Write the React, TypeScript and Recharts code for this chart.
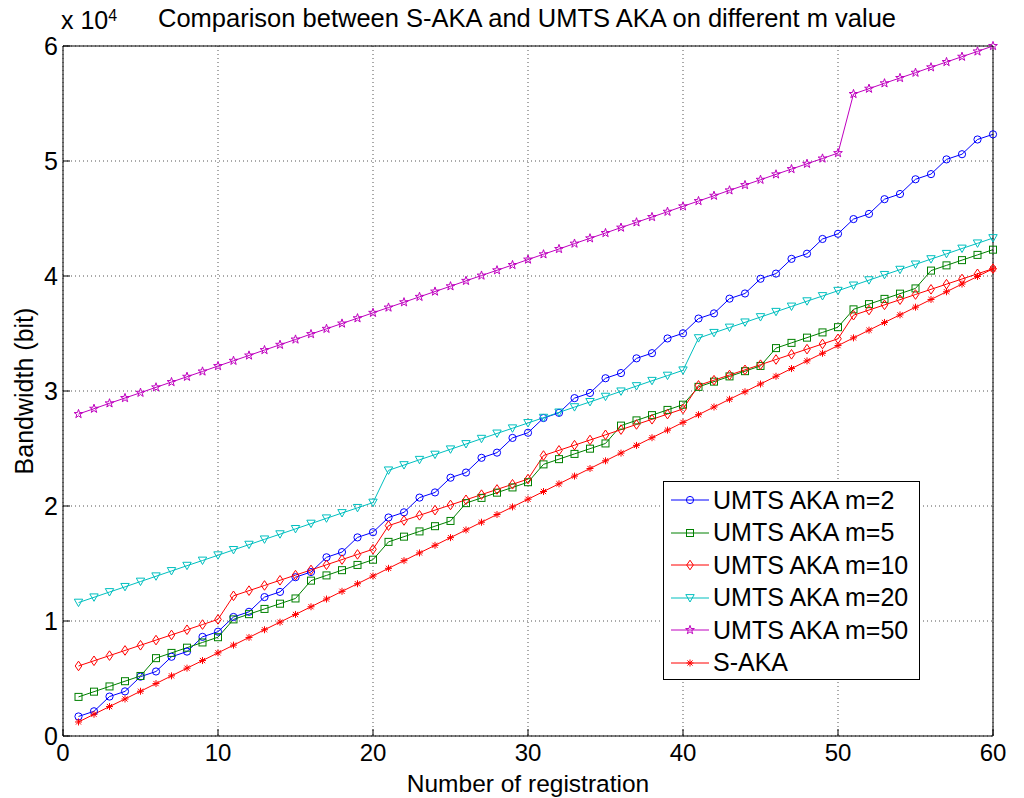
import React from "react";
import { LineChart, Line, XAxis, YAxis, CartesianGrid } from "recharts";

// registration count on the x axis
const registrations = [
  1, 2, 3, 4, 5, 6, 7, 8, 9, 10, 11, 12, 13, 14, 15, 16, 17, 18, 19, 20,
  21, 22, 23, 24, 25, 26, 27, 28, 29, 30, 31, 32, 33, 34, 35, 36, 37, 38, 39, 40,
  41, 42, 43, 44, 45, 46, 47, 48, 49, 50, 51, 52, 53, 54, 55, 56, 57, 58, 59, 60,
];

// bandwidth (bit)
const umtsM2 = [
  1700, 2150, 3430, 3880, 5160, 5610, 6890, 7340, 8620, 9070,
  10350, 10800, 12080, 12530, 13810, 14260, 15540, 15990, 17270, 17720,
  19000, 19450, 20730, 21180, 22460, 22910, 24190, 24640, 25920, 26370,
  27650, 28100, 29380, 29830, 31110, 31560, 32840, 33290, 34570, 35020,
  36300, 36750, 38030, 38480, 39760, 40210, 41490, 41940, 43220, 43670,
  44950, 45400, 46680, 47130, 48410, 48860, 50140, 50590, 51870, 52320,
];

const umtsM5 = [
  3400, 3855, 4310, 4765, 5220, 6770, 7225, 7680, 8135, 8590,
  10140, 10595, 11050, 11505, 11960, 13510, 13965, 14420, 14875, 15330,
  16880, 17335, 17790, 18245, 18700, 20250, 20705, 21160, 21615, 22070,
  23620, 24075, 24530, 24985, 25440, 26990, 27445, 27900, 28355, 28810,
  30360, 30815, 31270, 31725, 32180, 33730, 34185, 34640, 35095, 35550,
  37100, 37555, 38010, 38465, 38920, 40470, 40925, 41380, 41835, 42290,
];

const umtsM10 = [
  6090, 6540, 6990, 7440, 7890, 8340, 8790, 9240, 9690, 10140,
  12190, 12640, 13090, 13540, 13990, 14440, 14890, 15340, 15790, 16240,
  18290, 18740, 19190, 19640, 20090, 20540, 20990, 21440, 21890, 22340,
  24390, 24840, 25290, 25740, 26190, 26640, 27090, 27540, 27990, 28440,
  30490, 30940, 31390, 31840, 32290, 32740, 33190, 33640, 34090, 34540,
  36590, 37040, 37490, 37940, 38390, 38840, 39290, 39740, 40190, 40640,
];

const umtsM20 = [
  11600, 12060, 12520, 12970, 13430, 13890, 14350, 14810, 15260, 15720,
  16180, 16640, 17100, 17550, 18010, 18470, 18930, 19390, 19840, 20300,
  23100, 23560, 24020, 24470, 24930, 25390, 25850, 26310, 26760, 27220,
  27680, 28140, 28600, 29050, 29510, 29970, 30430, 30890, 31340, 31800,
  34600, 35060, 35520, 35970, 36430, 36890, 37350, 37810, 38260, 38720,
  39180, 39640, 40100, 40550, 41010, 41470, 41930, 42390, 42840, 43300,
];

const umtsM50 = [
  28000, 28460, 28930, 29390, 29850, 30320, 30780, 31240, 31700, 32170,
  32630, 33090, 33560, 34020, 34480, 34950, 35410, 35870, 36330, 36800,
  37260, 37720, 38190, 38650, 39110, 39580, 40040, 40500, 40960, 41430,
  41890, 42350, 42820, 43280, 43740, 44210, 44670, 45130, 45590, 46060,
  46520, 46980, 47450, 47910, 48370, 48840, 49300, 49760, 50220, 50690,
  55830, 56290, 56760, 57220, 57680, 58150, 58610, 59070, 59530, 60000,
];

const sAka = [
  1220, 1890, 2560, 3220, 3890, 4560, 5230, 5900, 6560, 7230,
  7900, 8570, 9240, 9900, 10570, 11240, 11910, 12580, 13240, 13910,
  14580, 15250, 15920, 16580, 17250, 17920, 18590, 19260, 19920, 20590,
  21260, 21930, 22600, 23260, 23930, 24600, 25270, 25940, 26600, 27270,
  27940, 28610, 29280, 29940, 30610, 31280, 31950, 32620, 33280, 33950,
  34620, 35290, 35960, 36620, 37290, 37960, 38630, 39300, 39960, 40630,
];

const xTicks = [0, 10, 20, 30, 40, 50, 60];
const yTicks = [0, 10000, 20000, 30000, 40000, 50000, 60000];

const rows = registrations.map((n, i) => ({
  n,
  m2: umtsM2[i],
  m5: umtsM5[i],
  m10: umtsM10[i],
  m20: umtsM20[i],
  m50: umtsM50[i],
  saka: sAka[i],
}));

type Shape = "circle" | "square" | "diamond" | "triangle" | "star" | "asterisk";

const series: { key: string; name: string; color: string; shape: Shape }[] = [
  { key: "m2", name: "UMTS AKA m=2", color: "#0000ff", shape: "circle" },
  { key: "m5", name: "UMTS AKA m=5", color: "#008000", shape: "square" },
  { key: "m10", name: "UMTS AKA m=10", color: "#ff0000", shape: "diamond" },
  { key: "m20", name: "UMTS AKA m=20", color: "#00bfbf", shape: "triangle" },
  { key: "m50", name: "UMTS AKA m=50", color: "#bf00bf", shape: "star" },
  { key: "saka", name: "S-AKA", color: "#ff0000", shape: "asterisk" },
];

const FONT = '"Liberation Sans", Arial, Helvetica, sans-serif';

function starPoints(cx: number, cy: number, outer: number, inner: number) {
  const pts: string[] = [];
  for (let k = 0; k < 10; k++) {
    const r = k % 2 === 0 ? outer : inner;
    const a = -Math.PI / 2 + (k * Math.PI) / 5;
    pts.push(`${cx + r * Math.cos(a)},${cy + r * Math.sin(a)}`);
  }
  return pts.join(" ");
}

function Marker({ shape, cx, cy, color }: { shape: Shape; cx: number; cy: number; color: string }) {
  const common = { fill: "none", stroke: color, strokeWidth: 1 };
  switch (shape) {
    case "circle":
      return <circle cx={cx} cy={cy} r={3.6} {...common} />;
    case "square":
      return <rect x={cx - 3.5} y={cy - 3.5} width={7} height={7} {...common} />;
    case "diamond":
      return <polygon points={`${cx},${cy - 4.8} ${cx + 3.3},${cy} ${cx},${cy + 4.8} ${cx - 3.3},${cy}`} {...common} />;
    case "triangle":
      return <polygon points={`${cx - 4.2},${cy - 3.4} ${cx + 4.2},${cy - 3.4} ${cx},${cy + 4}`} {...common} />;
    case "star":
      return <polygon points={starPoints(cx, cy, 4.6, 1.8)} {...common} />;
    default:
      return (
        <g stroke={color} strokeWidth={1}>
          <line x1={cx - 3.5} y1={cy} x2={cx + 3.5} y2={cy} />
          <line x1={cx} y1={cy - 3.5} x2={cx} y2={cy + 3.5} />
          <line x1={cx - 2.6} y1={cy - 2.6} x2={cx + 2.6} y2={cy + 2.6} />
          <line x1={cx - 2.6} y1={cy + 2.6} x2={cx + 2.6} y2={cy - 2.6} />
        </g>
      );
  }
}

const xLabel = (props: any) => {
  const vb = props.viewBox || { x: 63, width: 930, y: 736 };
  return (
    <text x={vb.x + vb.width / 2} y={792} textAnchor="middle" fontSize={24.5} fontFamily={FONT} fill="#000">
      Number of registration
    </text>
  );
};

const yLabel = () => (
  <text x={33} y={391} transform="rotate(-90 33 391)" textAnchor="middle" fontSize={25} fontFamily={FONT} fill="#000">
    Bandwidth (bit)
  </text>
);

const topLabel = () => (
  <g fontFamily={FONT} fill="#000">
    <text x={527} y={27} textAnchor="middle" fontSize={25.5}>
      Comparison between S-AKA and UMTS AKA on different m value
    </text>
    <text x={61} y={29} fontSize={25}>
      x 10
      <tspan dy={-8} fontSize={16}>4</tspan>
    </text>
  </g>
);

export default function App() {
  return (
    <div style={{ position: "absolute", left: 0, top: 0, width: 1024, height: 798, background: "#fff", fontFamily: FONT }}>
      <LineChart width={1024} height={798} data={rows} margin={{ top: 45, right: 30, bottom: 0, left: 0 }}>
        <CartesianGrid stroke="#555" strokeDasharray="1 3" />
        <XAxis
          dataKey="n"
          type="number"
          domain={[0, 60]}
          ticks={xTicks}
          interval={0}
          height={62}
          stroke="#000"
          tickSize={-7}
          tickMargin={15}
          tick={{ fontSize: 24, fill: "#000", fontFamily: FONT }}
          label={xLabel}
        />
        <XAxis
          xAxisId="top"
          orientation="top"
          type="number"
          domain={[0, 60]}
          ticks={xTicks}
          interval={0}
          height={1}
          stroke="#000"
          tickSize={-7}
          tick={false}
          label={topLabel}
        />
        <YAxis
          type="number"
          domain={[0, 60000]}
          ticks={yTicks}
          interval={0}
          width={63}
          stroke="#000"
          tickSize={-7}
          tickMargin={12}
          tickFormatter={(v: number) => String(v / 10000)}
          tick={{ fontSize: 25, fill: "#000", fontFamily: FONT }}
          label={yLabel}
        />
        <YAxis
          yAxisId="right"
          orientation="right"
          type="number"
          domain={[0, 60000]}
          ticks={yTicks}
          interval={0}
          width={1}
          stroke="#000"
          tickSize={-7}
          tick={false}
        />
        {series.map((s) => (
          <Line
            key={s.key}
            dataKey={s.key}
            name={s.name}
            stroke={s.color}
            strokeWidth={1}
            isAnimationActive={false}
            dot={(p: any) => <Marker key={`${s.key}-${p.index}`} shape={s.shape} cx={p.cx} cy={p.cy} color={s.color} />}
            activeDot={false}
          />
        ))}
      </LineChart>

      <div
        style={{
          position: "absolute",
          left: 663,
          top: 481,
          width: 257,
          height: 199,
          boxSizing: "border-box",
          border: "1px solid #000",
          background: "#fff",
          paddingTop: 2,
        }}
      >
        {series.map((s) => (
          <div key={s.key} style={{ height: 32.5, display: "flex", alignItems: "center", paddingLeft: 7 }}>
            <svg width={38} height={20} style={{ flex: "none" }}>
              <line x1={0} y1={10} x2={38} y2={10} stroke={s.color} strokeWidth={1} />
              <Marker shape={s.shape} cx={19} cy={10} color={s.color} />
            </svg>
            <span style={{ marginLeft: 4, fontSize: 25, color: "#000", whiteSpace: "nowrap" }}>{s.name}</span>
          </div>
        ))}
      </div>
    </div>
  );
}
